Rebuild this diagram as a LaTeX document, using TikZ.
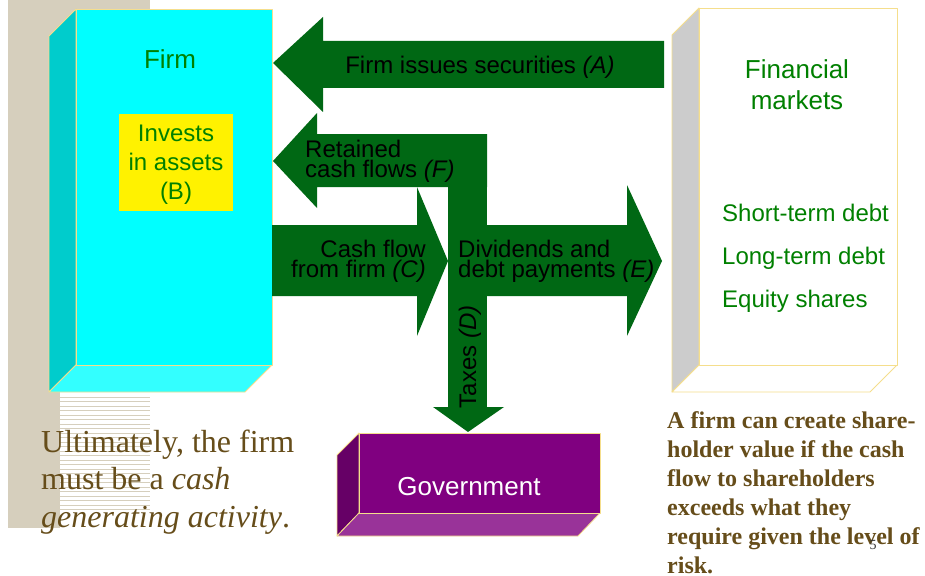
\documentclass[tikz,border=0pt]{standalone}
\usepackage{fontspec}
\setmainfont{Liberation Sans}
\newfontfamily\timesfont{Liberation Serif}

\definecolor{arrowgreen}{RGB}{0,104,20}
\definecolor{labelgreen}{RGB}{0,128,0}
\definecolor{panel}{RGB}{214,207,189}
\definecolor{textbrown}{RGB}{102,77,26}
\definecolor{edgeline}{RGB}{245,222,140}
\definecolor{cyanfront}{RGB}{0,255,255}
\definecolor{cyanside}{RGB}{0,204,204}
\definecolor{cyanbottom}{RGB}{51,255,255}
\definecolor{greyside}{RGB}{204,204,204}
\definecolor{purplefront}{RGB}{128,0,128}
\definecolor{purpleside}{RGB}{102,0,102}
\definecolor{purplebottom}{RGB}{153,51,153}

\begin{document}
\begin{tikzpicture}[x=1pt,y=-1pt,
  flow/.style={fill=arrowgreen},
  face/.style={draw=edgeline, line width=0.8pt, line join=round},
  flowlabel/.style={font=\fontsize{24}{20.5}\selectfont, inner sep=0pt, text=black},
  boxlabel/.style={font=\fontsize{24}{29}\selectfont, inner sep=0pt, text=labelgreen},
  titlelabel/.style={font=\fontsize{26}{31}\selectfont, inner sep=0pt, text=labelgreen},
  stripe/.style={draw=panel, line width=1pt}]

\useasboundingbox (0,0) rectangle (925,575);
\fill[white] (0,0) rectangle (925,575);

% slide decoration: tan panel and striped band
\fill[panel] (8,0) rectangle (150,392);
\fill[panel] (8,392) rectangle (60,528);
\foreach \k in {0,...,25}
  \draw[stripe] (60,397+4.5*\k) -- (150,397+4.5*\k);

% Firm block
\filldraw[face, fill=cyanside] (76,9) -- (49,36) -- (49,392) -- (76,365) -- cycle;
\filldraw[face, fill=cyanbottom] (76,365) -- (272,365) -- (245,392) -- (49,392) -- cycle;
\filldraw[face, fill=cyanfront] (76,9) rectangle (272,365);
\fill[yellow] (119,114) rectangle (233,211);

% Financial markets block
\filldraw[face, fill=greyside] (699,8) -- (672,35) -- (672,392) -- (699,365) -- cycle;
\filldraw[face, fill=white] (699,365) -- (897,365) -- (870,392) -- (672,392) -- cycle;
\filldraw[face, fill=white] (699,8) rectangle (897,365);

% Government block
\filldraw[face, fill=purpleside] (359,433) -- (337,455) -- (337,536) -- (359,513) -- cycle;
\filldraw[face, fill=purplebottom] (359,513) -- (600,513) -- (578,536) -- (337,536) -- cycle;
\filldraw[face, fill=purplefront] (359,433) rectangle (600,513);

% (A) securities issued to the firm
\fill[flow] (273,63) -- (323,17) -- (323,41) -- (664,41) -- (664,88)
  -- (323,88) -- (323,112) -- cycle;
% (F) retained cash flows, (D) taxes, (E) payments
\fill[flow] (273,161) -- (317,113) -- (317,134) -- (487,134) -- (487,187)
  -- (317,187) -- (317,208) -- cycle;
\fill[flow] (448,134) rectangle (487,407);
\fill[flow] (433,407) -- (504,407) -- (468,432) -- cycle;
\fill[flow] (448,225) -- (627,225) -- (627,185) -- (662,261) -- (627,336)
  -- (627,296) -- (448,296) -- cycle;
% (C) cash flow from the firm
\fill[flow] (272,225) -- (417,225) -- (417,187) -- (448,261) -- (417,336)
  -- (417,296) -- (272,296) -- cycle;

% block labels (multi-line nodes are placed by the baseline of their last line)
\node[titlelabel, anchor=base] (firm) at (170,69) {Firm};
\node[boxlabel, anchor=base, align=center] (invest) at (176,199)
  {Invests\\in assets\\(B)};
\node[titlelabel, anchor=base, align=center] (fm) at (797,110)
  {Financial\\markets};
\node[boxlabel, anchor=base west] (std) at (722,221) {Short-term debt};
\node[boxlabel, anchor=base west] (ltd) at (722,264) {Long-term debt};
\node[boxlabel, anchor=base west] (eq) at (722,307) {Equity shares};
\node[font=\fontsize{26}{31}\selectfont, inner sep=0pt, text=white, anchor=base]
  (gov) at (469,495) {Government};

% flow labels
\node[flowlabel, anchor=base] (la) at (480,74) {Firm issues securities \textit{(A)}};
\node[flowlabel, anchor=base west, align=left] (lf) at (305,177.5)
  {Retained\\cash flows \textit{(F)}};
\node[flowlabel, anchor=base east, align=right] (lc) at (426,277.5)
  {Cash flow\\from firm \textit{(C)}};
\node[flowlabel, anchor=base west, align=left] (le) at (458,277.5)
  {Dividends and\\debt payments \textit{(E)}};
\node[flowlabel, rotate=90] (ld) at (470,357) {Taxes \textit{(D)}};

% notes
\node[font=\timesfont\fontsize{32}{37.5}\selectfont, text=textbrown, inner sep=0pt,
  anchor=base west, align=left] (note) at (41,527)
  {Ultimately, the firm\\must be a \textit{cash}\\\textit{generating activity}.};
\node[font=\timesfont\bfseries\fontsize{24}{29}\selectfont, text=textbrown, inner sep=0pt,
  anchor=base west, align=left] (value) at (667,573)
  {A firm can create share-\\holder value if the cash\\flow to shareholders\\exceeds what they\\require given the level of\\risk.};
\node[font=\timesfont\fontsize{14}{14}\selectfont, text=black!80, inner sep=0pt]
  (page) at (873,545) {5};
\end{tikzpicture}
\end{document}
